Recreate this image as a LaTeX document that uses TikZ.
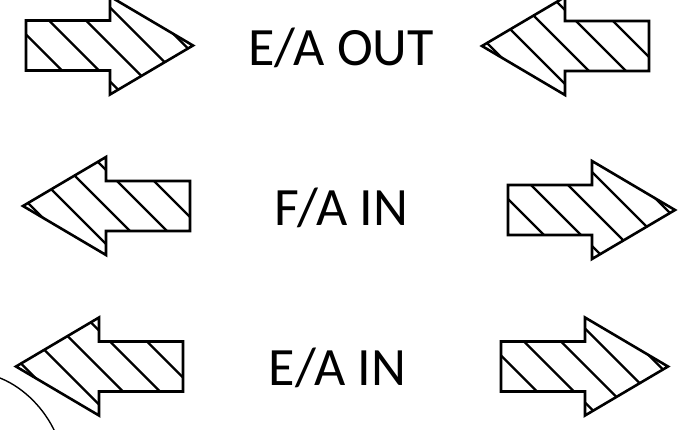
\documentclass[tikz,border=0pt]{standalone}
\usepackage{fontspec}
\setmainfont{Carlito}

\begin{document}
\begin{tikzpicture}[x=1pt,y=-1pt,
  outline/.style={draw=black,line width=2.6pt,line join=miter},
  hatch/.style={draw=black,line width=2.2pt},
  flowlabel/.style={font=\fontsize{54}{60}\selectfont,anchor=base,inner sep=0pt},
  hatcharrow/.pic={
    \begin{scope}
      \clip (-84,-25) -- (0,-25) -- (0,-49) -- (83,0) -- (0,49) -- (0,25) -- (-84,25) -- cycle;
      \foreach \off in {-75,-38,-1,36,73}
        \draw[hatch] (-130,-130+\off) -- (130,130+\off);
    \end{scope}
    \draw[outline] (-84,-25) -- (0,-25) -- (0,-49) -- (83,0) -- (0,49) -- (0,25) -- (-84,25) -- cycle;
  },
]
\useasboundingbox (0,0) rectangle (681,429);

% Row 1: E/A OUT (arrows point inward)
\pic (outL) at (110,45.5) {hatcharrow};
\pic[rotate=180] (outR) at (565,46) {hatcharrow};
\node[flowlabel] (eaout) at (341,65) {E/A OUT};

% Row 2: F/A IN (arrows point outward)
\pic[rotate=180] (fainL) at (106,206) {hatcharrow};
\pic (fainR) at (592,210) {hatcharrow};
\node[flowlabel] (fain) at (341.5,225) {F/A IN};

% Row 3: E/A IN (arrows point outward)
\pic[rotate=180] (eainL) at (99,366.5) {hatcharrow};
\pic (eainR) at (585,366.5) {hatcharrow};
\node[flowlabel] (eain) at (337.5,385) {E/A IN};

% Edge of a curve in the corner
\draw[line width=1.4pt] (0,378) .. controls (25,388) and (45,410) .. (55,432);

\end{tikzpicture}
\end{document}
